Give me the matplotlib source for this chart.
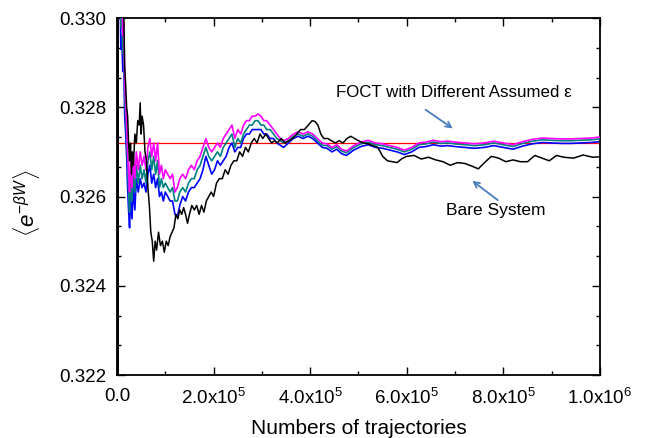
import numpy as np
import matplotlib
matplotlib.use('Agg')
import matplotlib.pyplot as plt
from matplotlib.ticker import AutoMinorLocator, FixedLocator

plt.rcParams['font.family'] = ['Liberation Sans', 'DejaVu Sans']
plt.rcParams['mathtext.fontset'] = 'custom'
plt.rcParams['mathtext.rm'] = 'Liberation Sans'
plt.rcParams['mathtext.it'] = 'Liberation Sans:italic'
plt.rcParams['mathtext.bf'] = 'Liberation Sans:bold'

# exact average of exp(-beta W)
exact_value = 0.32719

# FOCT curves (x in thousands of trajectories)
x_foct = [0.5, 1.5, 2.5, 3.5, 4.5, 5.5, 6.5, 8, 10, 12, 14, 16, 18, 20, 22, 24, 26, 28, 31, 34,
          37, 40, 44, 48, 52, 56, 60, 64, 68, 72, 76, 80, 84, 88, 92, 96, 100, 105, 110, 115,
          120, 125, 130, 136, 142, 148, 154, 160, 166, 172, 178, 184, 190, 196, 202, 208, 214, 220, 226, 232,
          238, 244, 250, 256, 262, 268, 274, 280, 286, 292, 298, 304, 310, 317, 324, 331, 338, 345, 355, 365,
          375, 385, 395, 405, 415, 425, 435, 445, 455, 465, 475, 490, 505, 520, 535, 550, 565, 580, 595, 610,
          625, 640, 655, 670, 685, 700, 720, 740, 760, 780, 800, 820, 840, 860, 880, 900, 920, 940, 960, 980, 1000]

foct_magenta = [0.3330, 0.3212, 0.3350, 0.3318, 0.3332, 0.3310, 0.3318, 0.3302, 0.3306, 0.3296,
                0.3299, 0.3285, 0.3281, 0.3276, 0.3270, 0.3265, 0.3261, 0.3268, 0.3262, 0.3269,
                0.3264, 0.3270, 0.3266, 0.3270, 0.3267, 0.3269, 0.3266, 0.3271, 0.3273, 0.3269,
                0.3272, 0.3268, 0.3272, 0.3265, 0.3267, 0.3264, 0.3266, 0.3265, 0.3264, 0.3265,
                0.3261, 0.3262, 0.3264, 0.3265, 0.3264, 0.3266, 0.3267, 0.3266, 0.3268, 0.3269,
                0.3271, 0.3273, 0.3271, 0.3270, 0.3271, 0.3272, 0.3271, 0.3273, 0.3274, 0.3275,
                0.3276, 0.3273, 0.3275, 0.3274, 0.3276, 0.3277, 0.3277, 0.3278, 0.3278, 0.32785,
                0.3278, 0.3277, 0.3277, 0.3276, 0.3275, 0.3274, 0.3273, 0.32725, 0.3273, 0.3274,
                0.32745, 0.3274, 0.32745, 0.3274, 0.3273, 0.3272, 0.32718, 0.3271, 0.32716, 0.32706,
                0.32702, 0.32714, 0.32722, 0.32726, 0.3272, 0.32718, 0.32714, 0.3271, 0.32704, 0.3271,
                0.3272, 0.32722, 0.32726, 0.32723, 0.32724, 0.32722, 0.3272, 0.32718, 0.3272, 0.32724,
                0.3272, 0.32716, 0.32723, 0.32728, 0.32731, 0.3273, 0.32729, 0.32729, 0.3273, 0.32731, 0.32733]

foct_teal = [0.3320, 0.3230, 0.3345, 0.3312, 0.3325, 0.3305, 0.3312, 0.3298, 0.3301, 0.3292,
             0.3295, 0.3282, 0.3278, 0.3273, 0.3267, 0.3261, 0.32565, 0.3264, 0.3259, 0.3265,
             0.3261, 0.3267, 0.3263, 0.3267, 0.3264, 0.3266, 0.3263, 0.3268, 0.3270, 0.3266,
             0.3269, 0.3265, 0.3268, 0.3262, 0.3264, 0.3262, 0.3263, 0.3262, 0.3261, 0.3262,
             0.3259, 0.3259, 0.3261, 0.3262, 0.3261, 0.3263, 0.3264, 0.3264, 0.3266, 0.3267,
             0.3269, 0.3271, 0.3269, 0.3268, 0.3269, 0.3270, 0.3269, 0.3271, 0.3272, 0.3273,
             0.3274, 0.3271, 0.3273, 0.3272, 0.3274, 0.3275, 0.3276, 0.3276, 0.3277, 0.3277,
             0.3276, 0.3276, 0.3275, 0.3275, 0.3274, 0.3273, 0.32725, 0.3272, 0.32725, 0.32735,
             0.3274, 0.32735, 0.3274, 0.32735, 0.32725, 0.32715, 0.32714, 0.32706, 0.32712, 0.32702,
             0.32698, 0.3271, 0.32718, 0.32722, 0.32716, 0.32714, 0.3271, 0.32706, 0.327, 0.32706,
             0.32716, 0.32718, 0.32722, 0.32719, 0.3272, 0.32718, 0.32716, 0.32714, 0.32716, 0.3272,
             0.32716, 0.32712, 0.32719, 0.32724, 0.32727, 0.32726, 0.32725, 0.32725, 0.32726, 0.32727, 0.32729]

foct_blue = [0.3310, 0.3236, 0.3340, 0.3305, 0.3318, 0.3300, 0.3306, 0.3293, 0.3296, 0.3288,
             0.3290, 0.3278, 0.3274, 0.3269, 0.3262, 0.3257, 0.3253, 0.3260, 0.3255, 0.3262,
             0.3257, 0.3264, 0.3261, 0.3264, 0.3262, 0.3263, 0.3261, 0.3265, 0.3267, 0.3263,
             0.3265, 0.3262, 0.3264, 0.3260, 0.3261, 0.3259, 0.3261, 0.3260, 0.3259, 0.3259,
             0.3256, 0.32555, 0.3258, 0.3260, 0.3259, 0.3261, 0.3262, 0.3262, 0.3263, 0.3264,
             0.3266, 0.3269, 0.3267, 0.3265, 0.3266, 0.3268, 0.3267, 0.3268, 0.3269, 0.3271,
             0.3272, 0.3270, 0.3271, 0.3271, 0.3273, 0.3274, 0.3274, 0.3275, 0.3275, 0.3275,
             0.3275, 0.3274, 0.3274, 0.3273, 0.3273, 0.3272, 0.32715, 0.3271, 0.3272, 0.3273,
             0.32735, 0.3273, 0.32735, 0.3273, 0.3272, 0.3271, 0.32708, 0.3270, 0.32706, 0.32696,
             0.32692, 0.32704, 0.32712, 0.32716, 0.3271, 0.32708, 0.32704, 0.3270, 0.32694, 0.3270,
             0.3271, 0.32712, 0.32716, 0.32713, 0.32714, 0.32712, 0.3271, 0.32708, 0.3271, 0.32714,
             0.3271, 0.32706, 0.32713, 0.32718, 0.32721, 0.3272, 0.32719, 0.32719, 0.3272, 0.32721, 0.32723]

# bare system
x_bare = [0.5, 1.5, 2.5, 3.5, 5, 8, 11, 14, 16, 18, 20, 22, 24, 26, 28, 30, 32, 34, 37, 40,
          43, 46, 48, 50, 52, 55, 58, 61, 64, 67, 70, 73, 76, 79, 82, 86, 90, 94, 98, 102,
          106, 110, 114, 118, 122, 126, 130, 134, 138, 142, 146, 150, 155, 160, 165, 170, 175, 180, 185, 190,
          195, 200, 206, 212, 218, 224, 230, 236, 242, 248, 254, 260, 266, 272, 278, 284, 290, 296, 302, 308,
          314, 320, 326, 332, 340, 348, 356, 364, 372, 380, 388, 396, 404, 410, 416, 422, 428, 436, 444, 452,
          460, 468, 476, 484, 492, 500, 510, 520, 530, 540, 550, 560, 570, 580, 590, 600, 615, 630, 645, 660,
          675, 690, 705, 720, 735, 748, 760, 775, 790, 805, 820, 835, 850, 865, 880, 895, 910, 925, 945, 965, 985, 1000]

bare = [0.3340, 0.3215, 0.3345, 0.3330, 0.3340, 0.3320, 0.3312, 0.3301, 0.3289, 0.3285,
        0.3280, 0.3278, 0.3272, 0.3268, 0.3272, 0.3265, 0.3270, 0.3267, 0.3274, 0.3272,
        0.3277, 0.3276, 0.3281, 0.3274, 0.3278, 0.3276, 0.3270, 0.3268, 0.3262, 0.3258,
        0.3252, 0.3250, 0.32455, 0.3250, 0.3248, 0.3252, 0.3249, 0.3250, 0.32475, 0.3250,
        0.3249, 0.3251, 0.3252, 0.3253, 0.3256, 0.3255, 0.3257, 0.3256, 0.32575, 0.3256,
        0.3254, 0.3256, 0.3258, 0.3257, 0.3258, 0.3256, 0.3258, 0.32565, 0.3259, 0.3260,
        0.3261, 0.3260, 0.3263, 0.3264, 0.3264, 0.3266, 0.3265, 0.3267, 0.3268, 0.3268,
        0.3270, 0.3269, 0.3271, 0.3270, 0.3272, 0.3273, 0.3272, 0.3274, 0.3273, 0.3274,
        0.3273, 0.3272, 0.32725, 0.3272, 0.3273, 0.3272, 0.32725, 0.3273, 0.3274, 0.3275,
        0.3275, 0.3276, 0.3277, 0.32768, 0.3276, 0.3274, 0.3273, 0.3273, 0.32725, 0.3272,
        0.32725, 0.3272, 0.3273, 0.32735, 0.3273, 0.32725, 0.3272, 0.32718, 0.32714, 0.3271,
        0.3269, 0.3268, 0.32678, 0.32676, 0.32685, 0.3269, 0.32692, 0.32684, 0.32688, 0.32682,
        0.32678, 0.3267, 0.32676, 0.32674, 0.32668, 0.32662, 0.32675, 0.3269, 0.32686, 0.32678,
        0.32682, 0.32678, 0.32678, 0.32692, 0.32686, 0.3268, 0.32692, 0.32688, 0.32686, 0.32693, 0.32688, 0.32689]

xticks = [0, 2e5, 4e5, 6e5, 8e5, 1e6]
xtick_labels = ['0.0', '2.0x10$^{5}$', '4.0x10$^{5}$', '6.0x10$^{5}$', '8.0x10$^{5}$', '1.0x10$^{6}$']
yticks = [0.322, 0.324, 0.326, 0.328, 0.330]

fig = plt.figure(figsize=(6.46, 4.38), dpi=100)
ax = fig.add_axes([0.1811, 0.1438, 0.7477, 0.8151])

ax.axhline(exact_value, color='red', lw=0.9, zorder=1)

xf = np.array(x_foct) * 1e3
ax.plot(xf, foct_blue, color='#0000ff', lw=1.2, zorder=2)
ax.plot(xf, foct_teal, color='#008080', lw=1.2, zorder=3)
ax.plot(xf, foct_magenta, color='#ff00ff', lw=1.2, zorder=4)
ax.plot(np.array(x_bare) * 1e3, bare, color='black', lw=1.1, zorder=5)

ax.set_xlim(0, 1e6)
ax.set_ylim(0.322, 0.330)
ax.xaxis.set_major_locator(FixedLocator(xticks))
ax.set_xticklabels(xtick_labels)
ax.set_yticks(yticks)
ax.set_yticklabels(['%.3f' % v for v in yticks])
ax.xaxis.set_minor_locator(AutoMinorLocator(2))
ax.yaxis.set_minor_locator(AutoMinorLocator(3))
ax.tick_params(which='both', direction='in', top=True, right=True, labelsize=13.5, width=1.0)
ax.tick_params(which='major', length=6)
ax.tick_params(axis='x', which='major', pad=9)
ax.tick_params(axis='y', which='major', pad=8)
ax.tick_params(which='minor', length=3)
for s in ax.spines.values():
    s.set_linewidth(1.3)

ax.set_xlabel('Numbers of trajectories', fontsize=15, labelpad=8)
ax.set_ylabel(r'$\langle e^{-\beta W}\rangle$', fontsize=16)
ax.yaxis.set_label_coords(-0.155, 0.48)

arrow_color = '#4a7ebb'
ax.annotate('', xy=(7.0e5, 0.32749), xytext=(6.34e5, 0.32798),
            arrowprops=dict(arrowstyle='->', color=arrow_color, lw=1.3))
ax.annotate('', xy=(7.31e5, 0.32639), xytext=(7.93e5, 0.32588),
            arrowprops=dict(arrowstyle='->', color=arrow_color, lw=1.3))
ax.text(6.98e5, 0.32834, 'FOCT with Different Assumed \u03b5', fontsize=12.2,
        ha='center', va='center')
ax.text(7.85e5, 0.32568, 'Bare System', fontsize=12.5, ha='center', va='center')

fig.savefig('out.png', dpi=100)
